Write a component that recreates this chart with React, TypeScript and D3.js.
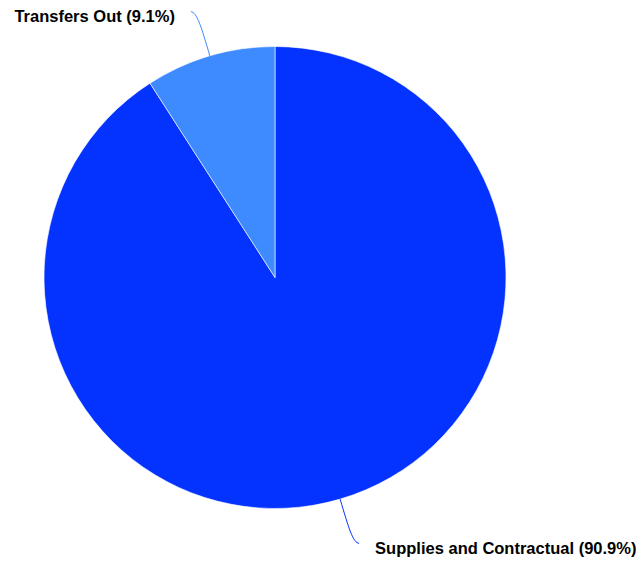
import React from "react";
import * as d3 from "d3";

const categories = ["Supplies and Contractual", "Transfers Out"];
const values = [90.9, 9.1];
const colors = ["#0433ff", "#3d8bff"];

export default function App() {
  const width = 640;
  const height = 561;
  const cx = 275;
  const cy = 277.5;
  const r = 231;
  const pie = d3.pie<number>().sort(null).value((d) => d)(values);
  const arc = d3.arc<d3.PieArcDatum<number>>().innerRadius(0).outerRadius(r);
  return (
    <svg width={width} height={height} style={{ position: "absolute", left: 0, top: 0 }}>
      <g transform={`translate(${cx},${cy})`}>
        {pie.map((p, i) => (
          <path key={i} d={arc(p) || ""} fill={colors[i]} stroke="#ffffff" strokeWidth={0.6} />
        ))}
        {pie.map((p, i) => {
          const a = (p.startAngle + p.endAngle) / 2;
          const sx = Math.sin(a), sy = -Math.cos(a);
          const right = sx > 0;
          const e = [r * sx, r * sy];
          const c1 = [(r + 30) * sx, (r + 30) * sy];
          const c2 = [(r + 46) * sx, (r + 46) * sy];
          const end = [c2[0] + (right ? 6 : -6), c2[1]];
          const path = d3.path();
          path.moveTo(e[0], e[1]);
          path.bezierCurveTo(c1[0], c1[1], c2[0], c2[1], end[0], end[1]);
          const label = `${categories[i]} (${values[i].toFixed(1)}%)`;
          return (
            <g key={"l" + i}>
              <path d={path.toString()} fill="none" stroke={colors[i]} strokeWidth={1} />
              <text
                x={end[0] + (right ? 16 : -16)}
                y={end[1] + 10.5}
                textAnchor={right ? "start" : "end"}
                fontFamily="Liberation Sans, Arial, sans-serif"
                fontWeight="bold"
                fontSize={16.5}
                fill="#000"
              >
                {label}
              </text>
            </g>
          );
        })}
      </g>
    </svg>
  );
}
